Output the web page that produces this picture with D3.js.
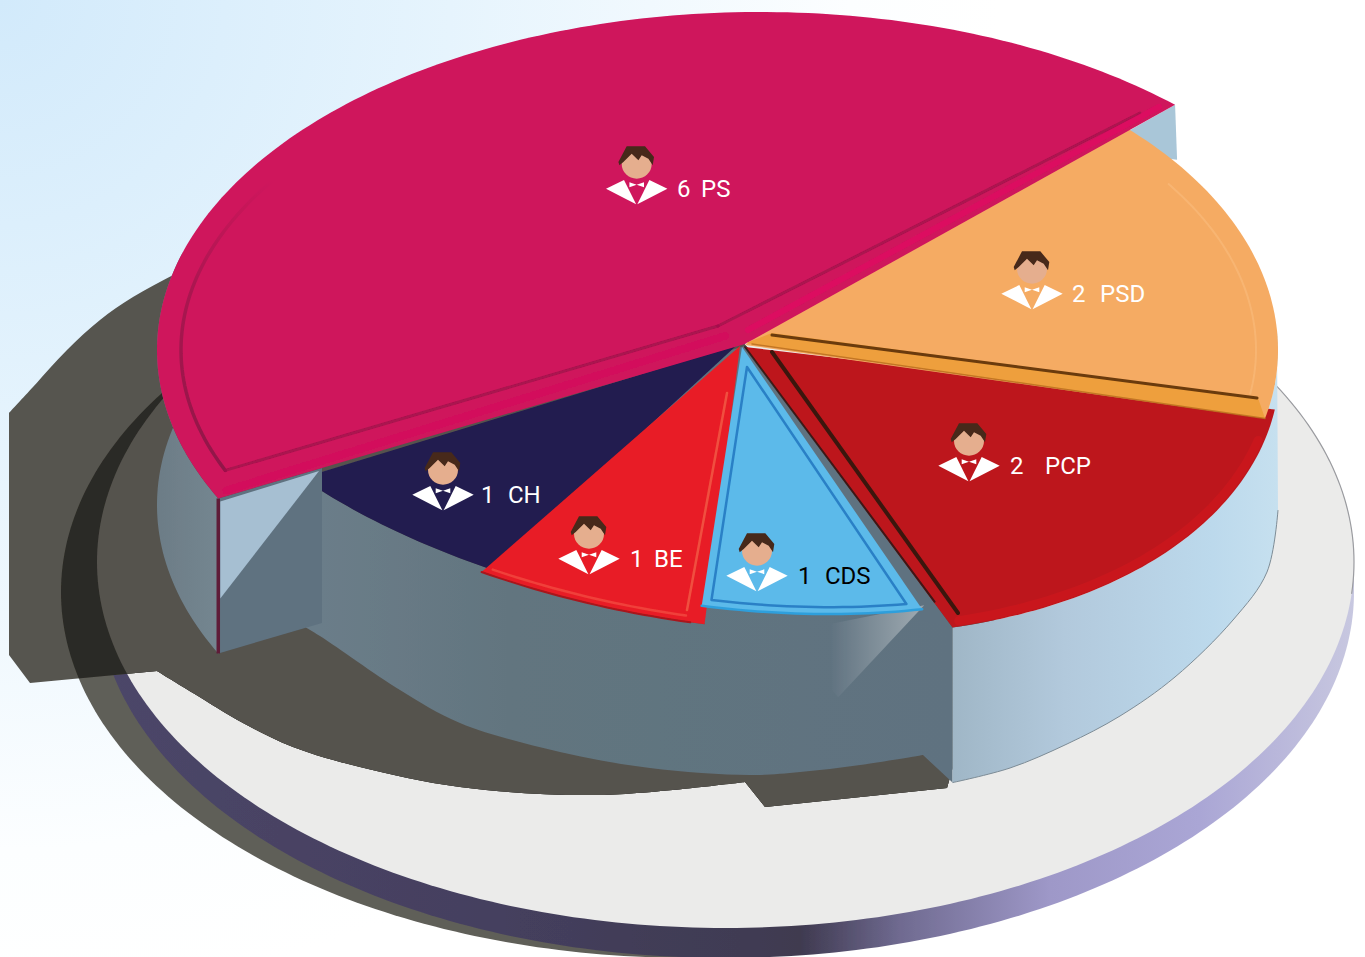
<!DOCTYPE html>
<html><head><meta charset="utf-8">
<script src="https://cdn.jsdelivr.net/npm/d3@7"></script>
<style>html,body{margin:0;padding:0;background:#fff;overflow:hidden}svg{display:block}text{font-family:Roboto,sans-serif;font-size:24px}</style>
</head><body><svg id="c" width="1365" height="957"></svg>
<script>
// --- data (clockwise from the PS/PSD border) ---
const parties = ["PSD","PCP","CDS","BE","CH","PS"];
const seats   = [2,2,1,1,1,6];
// --- style ---
const colors  = ["#f5ab63","#bd161c","#5bbaea","#e81e25","#211b4f","#cf145c"];
const inkCols = ["#fff","#fff","#000","#fff","#fff","#fff"];
const START = 46.5, H = 155, rad = d => d*Math.PI/180;

const svg = d3.select("#c");
const defs = svg.append("defs");
function grad(id, stops, x1, x2, y1=0, y2=0){
  const g = defs.append("linearGradient").attr("id",id).attr("gradientUnits","userSpaceOnUse")
    .attr("x1",x1).attr("x2",x2).attr("y1",y1).attr("y2",y2);
  stops.forEach(s=>{const e=g.append("stop").attr("offset",s[0]).attr("stop-color",s[1]); if(s[2]!==undefined)e.attr("stop-opacity",s[2]);});
}
const bgG = defs.append("radialGradient").attr("id","bg").attr("gradientUnits","userSpaceOnUse")
  .attr("cx",0).attr("cy",0).attr("r",1000);
[[0,"#d2eafb"],[.45,"#e6f4fd"],[.85,"#fcfeff"],[1,"#fff"]].forEach(s=>bgG.append("stop").attr("offset",s[0]).attr("stop-color",s[1]));
grad("rim",[[0,"#4c4668"],[.287,"#454060"],[.558,"#3f3a50"],[.637,"#6f6a90"],[.757,"#9e98c8"],[.876,"#aaa6d5"],[1,"#c8c8e0"]],100,1355);
grad("wallDark",[[0,"#6b7d89"],[.3,"#62757f"],[1,"#5f7280"]],320,950);
grad("wallHi",[[0,"#607280"],[.45,"#7a8a95"],[1,"#99a5ad"]],830,915);
grad("wallLight",[[0,"#9fb6c6"],[.35,"#b2c9dc"],[.8,"#bcd9ec"],[1,"#c6e0ef"]],950,1278);
grad("wallPS",[[0,"#6c7c86"],[1,"#748690"]],155,218);
grad("psArc",[[0,"#8f1347",0],[.35,"#8f1347",.55],[1,"#8f1347",1]],0,0,180,480);
const blur = defs.append("filter").attr("id","soft").attr("x","-2%").attr("y","-2%").attr("width","104%").attr("height","104%");
blur.append("feGaussianBlur").attr("stdDeviation",.7);

// --- pie layout through d3 ---
const arcs = d3.pie().value(d=>d).sort(null)
  .startAngle(rad(START)).endAngle(rad(START+360))(seats);

// --- projections of a pie angle to the tilted disc ---
const mainP = (t,ins=0)=>[730+(548-ins)*Math.sin(t), 325-(290-ins)*Math.cos(t)+25*Math.sin(t)-15*Math.sin(2*t)];
const psP   = (t,ins=0)=>[760+(603-ins)*Math.sin(t), 350-(338-ins)*Math.cos(t)];
const discP = (t,dx=0,dy=0)=>[725.5+628.5*Math.sin(t)+dx, 562-366*Math.cos(t)+dy];

// per-slice geometry adjustments (degrees of trim, shift, hub)
const geo = {
  PSD:{p:mainP,dx:0,dy:0,ts:-8,te:.6,hub:[745,345]},
  PCP:{p:mainP,dx:2,dy:16,ts:-4,te:-1,hub:[745,347]},
  CDS:{p:mainP,dx:0,dy:-6,ts:2.2,te:-2,hub:[742,347]},
  BE :{p:mainP,dx:0,dy:12,ts:-2.3,te:-5.7,hub:[740,346]},
  CH :{p:mainP,dx:0,dy:6,ts:-7,te:-9,hub:[737,345]},
  PS :{p:psP,dx:0,dy:0,ts:3.6,te:-3,hub:[745,344]}
};
const spans = parties.map((n,i)=>({name:n,fill:colors[i],ink:inkCols[i],t0:arcs[i].startAngle+rad(geo[n].ts),t1:arcs[i].endAngle+rad(geo[n].te),g:geo[n]}));
const byName = Object.fromEntries(spans.map(s=>[s.name,s]));
function rimPts(s,ins=0,a=0,b=0,dy=0){
  const t0=s.t0+rad(a),t1=s.t1+rad(b),n=Math.ceil((t1-t0)/rad(1));
  return d3.range(n+1).map(i=>{const p=s.g.p(t0+(t1-t0)*i/n,ins);return [p[0]+s.g.dx,p[1]+s.g.dy+dy];});
}
const line = d3.line();
const smooth = d3.line().curve(d3.curveCatmullRom);
const closed = pts => line(pts)+"Z";
const cont = d => d.replace("M","L");

// --- background ---
svg.append("rect").attr("width",1365).attr("height",957).attr("fill","url(#bg)");
const art = svg.append("g").attr("filter","url(#soft)");

// --- disc ---
const ring = (dx,dy)=>d3.range(0,360,1).map(d=>discP(rad(d),dx,dy));
const discTop = ring(0,0), discLow = ring(0,30), discCast = ring(-36,30);
const hull = d3.polygonHull(discTop.concat(discLow));
const hullAll = d3.polygonHull(discTop.concat(discLow,discCast));
art.append("path").attr("d",closed(discCast.filter(p=>p[0]<700))).attr("fill","#5f5e58");
art.append("path").attr("d",closed(hull)).attr("fill","url(#rim)");
art.append("path").attr("d",closed(discTop)).attr("fill","#ebebea");
art.append("path").attr("d",line(d3.range(55,96).map(d=>discP(rad(d))))).attr("fill","none").attr("stroke","#9b9ca0").attr("stroke-width",1.2);

// --- cast shadow ---
const shadowPath =
  smooth([[230,245],[177,273],[133,297],[100,320],[67,350],[33,387],[9,413]]) +
  cont(line([[9,413],[9,655],[30,683],[157,671]])) +
  cont(smooth([[157,671],[193,693],[243,723],[293,747],[360,767],[460,787],[600,795],[745,782]])) +
  cont(line([[745,782],[765,807],[947,788],[1000,600],[700,300]])) + "Z";
art.append("path").attr("d",shadowPath).attr("fill","#56554f");
defs.append("clipPath").attr("id","shClip").append("path").attr("d",shadowPath);
const sg = art.append("g").attr("clip-path","url(#shClip)");
sg.append("path").attr("d",closed(hullAll)).attr("fill","#2b2a25");
sg.append("path").attr("d",closed(discTop)).attr("fill","#55534e");

// --- side walls ---
const ps=byName.PS, ch=byName.CH, be=byName.BE, cds=byName.CDS, pcp=byName.PCP, psd=byName.PSD;
const down=(pts,h=H)=>pts.map(p=>[p[0],p[1]+h]);
const psRim=rimPts(ps);
const c0=psRim[0], e0=psRim[psRim.length-1];
// PS body left side
const psLeft=psRim.filter(p=>p[0]<330 && p[1]>250);
art.append("path").attr("d",closed(psLeft.concat(down(psLeft).reverse()))).attr("fill","url(#wallPS)");
// PS far sliver
art.append("path").attr("d",closed([[e0[0]-80,e0[1]+45],e0,[e0[0]+2,e0[1]+55]])).attr("fill","#a9c6d8");
// dark front wall
const pcpCorner=rimPts(pcp).slice(-1)[0];
const frontTop=[...rimPts(ch).reverse(),...rimPts(be).reverse(),...rimPts(cds).reverse(),pcpCorner];
const wallBase=[[923,755],[860,765],[800,772],[750,775],[650,768],[560,752],[460,723],[400,690],[320,636],[300,624]];
art.append("path").attr("d",line([...frontTop,[pcpCorner[0],pcpCorner[1]+H]])+cont(smooth(wallBase))+"Z").attr("fill","url(#wallDark)");
art.append("path").attr("d",closed([[745,346],frontTop[0],frontTop[frontTop.length-1]])).attr("fill","#5f7280");
const cdsEnd=rimPts(cds)[0];
// highlight streak on the wall below CDS
art.append("path").attr("d",closed([[830,624],[cdsEnd[0]+2,cdsEnd[1]-4],[cdsEnd[0]-84,cdsEnd[1]+88],[832,690]])).attr("fill","url(#wallHi)");
// light right wall
const lightTop=[...rimPts(psd).filter(p=>p[1]>330),...rimPts(pcp,0,18,0)];
const lightBase=[[pcpCorner[0],pcpCorner[1]+H],[1010,768],[1067,744],[1120,716],[1175,677],[1233,620],[1267,572],[1278,510]];
art.append("path").attr("d",line(lightTop)+cont(smooth(lightBase))+"Z").attr("fill","url(#wallLight)");
art.append("path").attr("d",smooth(lightBase)).attr("fill","none").attr("stroke","#7d8c96").attr("stroke-width",1);

// --- top faces ---
function slicePath(s){return closed([s.g.hub,...rimPts(s)]);}
function drawSlice(n){const s=byName[n];art.append("path").attr("class","slice").attr("d",slicePath(s)).attr("fill",s.fill);}
["CH","BE","CDS","PCP","PSD"].forEach(drawSlice);
// PS front face, in front of the CH tip
const chordY=d3.scaleLinear().domain([c0[0],ps.g.hub[0]]).range([c0[1],ps.g.hub[1]]);
const fx=322, fy=chordY(fx);
art.append("path").attr("d",closed([c0,[fx,fy],[fx,fy+H],[c0[0],c0[1]+H]])).attr("fill","#5f7280");
art.append("path").attr("d",closed([[c0[0]+2,c0[1]+3],[fx-3,fy+3],[c0[0]+2,c0[1]+100]])).attr("fill","#a6bfd2");
art.append("line").attr("x1",c0[0]).attr("x2",c0[0]).attr("y1",c0[1]).attr("y2",c0[1]+H).attr("stroke","#5e1c38").attr("stroke-width",3.5);
drawSlice("PS");

// --- bevel lines ---
function stroke(d,c,w,op=1){art.append("path").attr("d",d).attr("fill","none").attr("stroke",c).attr("stroke-width",w).attr("stroke-opacity",op).attr("stroke-linejoin","round").attr("stroke-linecap","round");}
const psIn=rimPts(ps,24,3.5,-2.5);
stroke(line(psIn.filter(p=>p[0]<420)),"url(#psArc)",3.5);
stroke(line([psIn[0],[718,326]]),"#a3124c",3,.85);
stroke(line([[718,326],psIn[psIn.length-1]]),"#a3124c",3,.8);
stroke(line([[725,336],[c0[0]+8,c0[1]-8]]),"#d70e5c",8,.5);
stroke(line([[748,330],[e0[0]-16,e0[1]+2]]),"#e30c64",6,.65);
// PCP
stroke(line(rimPts(pcp,6,6,-1)),"#d0131a",9,.65);
stroke(line([[745,347],[pcpCorner[0]-18,pcpCorner[1]-26]]),"#2b1712",2,.85);
stroke(line([[772,352],[958,613]]),"#3b1510",4);
// PSD
stroke(line(rimPts(psd,22,18,-4)),"#f9bd80",2,.55);
const psdEnd=rimPts(psd).slice(-1)[0];
art.append("path").attr("d",closed([[746,343],[772,333],[1258,398],psdEnd])).attr("fill","#ee9f3c");
stroke(line([[772,335],[1257,398]]),"#6a3a0c",3);
stroke(line([[752,344],psdEnd]),"#b66a1c",1.5,.8);
// CDS
const cdsIn=rimPts(cds,7,1.5,-1);
stroke(closed([[747,367],...cdsIn]),"#2a80c6",2.5);
stroke(line(rimPts(cds,0)),"#2f9fdc",2.5);
// BE
stroke(line([[727,393],[687,610]]),"#f0503f",2.5);
stroke(line(rimPts(be,6,2,-1)),"#f0403a",2.5);
stroke(line(rimPts(be,0,1.5,0)),"#a8161c",2);

// --- icons + labels ---
const iconAt={PS:[636.7,187],PSD:[1032,292],PCP:[969,464],CH:[443,493],BE:[589,557],CDS:[757,574]};
const labelX={PS:[677,701],PSD:[1072,1100],PCP:[1010,1045],CH:[481,508],BE:[630,654],CDS:[798,825]};
const hair=[[-18.3,-25],[-10,-40.7],[8.3,-40.7],[17.3,-30],[16,-21.7],[11.7,-28.3],[5,-31.7],[1.7,-26.7],[-5,-33.3],[-13.3,-25],[-17.3,-21.7]];
const lapL=[[-30.7,1.7],[-12.7,-7],[-.6,17.3]], lapR=lapL.map(p=>[-p[0],p[1]]);
const tie=[[-7.3,-4.7],[0,-2.2],[7.3,-4.7],[7.3,.2],[0,-2.2],[-7.3,.2]];
parties.forEach((n,i)=>{
  const g=svg.append("g").attr("transform",`translate(${iconAt[n]})`);
  g.append("circle").attr("cy",-23.3).attr("r",15).attr("fill","#e5ae8e");
  g.append("path").attr("d",closed(hair)).attr("fill","#47291a");
  g.append("path").attr("d",closed(lapL)).attr("fill","#fff");
  g.append("path").attr("d",closed(lapR)).attr("fill","#fff");
  g.append("path").attr("d",closed(tie)).attr("fill","#fff");
  const t=svg.append("text").attr("y",iconAt[n][1]+9.5).attr("fill",inkCols[i]);
  t.append("tspan").attr("x",labelX[n][0]).text(seats[i]);
  t.append("tspan").attr("x",labelX[n][1]).text(n);
});
</script></body></html>
